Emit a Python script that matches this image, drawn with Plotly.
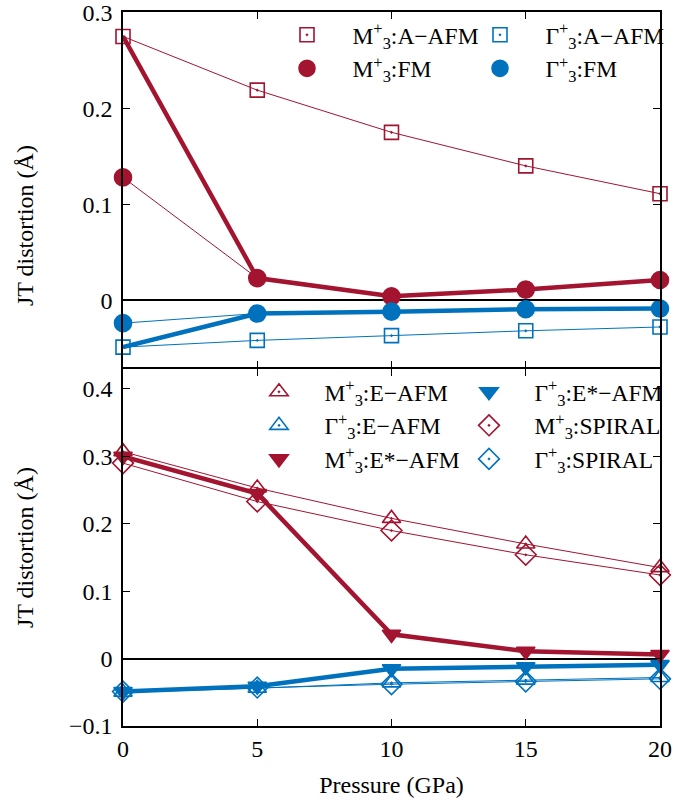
import plotly.graph_objects as go
from plotly.subplots import make_subplots

pressure = [0, 5, 10, 15, 20]

# top panel
m_aafm = [0.275, 0.219, 0.175, 0.140, 0.111]
m_fm = [0.128, 0.023, 0.004, 0.011, 0.021]
g_aafm = [-0.049, -0.042, -0.037, -0.032, -0.028]
g_fm = [-0.024, -0.014, -0.012, -0.0095, -0.0088]

# bottom panel
m_eafm = [0.307, 0.253, 0.208, 0.170, 0.135]
g_eafm = [-0.050, -0.044, -0.036, -0.032, -0.028]
m_estar = [0.300, 0.245, 0.036, 0.011, 0.006]
g_estar = [-0.049, -0.041, -0.015, -0.012, -0.009]
m_spiral = [0.290, 0.233, 0.190, 0.154, 0.124]
g_spiral = [-0.049, -0.043, -0.038, -0.034, -0.030]

# ground-state paths (thick lines)
m_ground_top = [m_aafm[0]] + m_fm[1:]
g_ground_top = [g_aafm[0]] + g_fm[1:]

RED = "#A2142F"
BLUE = "#0072BD"
FONT = "Liberation Serif, Times New Roman, Times, serif"
FS = 24
LFS = 23.5

SP = "\u2002\u2002\u200a"

def lab(base, state):
    return SP + base + "<sup>+</sup><sub>3</sub>:" + state

L, R, T, B = 123, 18, 12, 76
W, H = 678, 802
pw, ph = W - L - R, H - T - B
split = 1 - (368 - T) / ph
half = 0.75 / ph

fig = make_subplots(rows=2, cols=1, shared_xaxes=False, vertical_spacing=0)

def line(x, y, color, width, row):
    fig.add_trace(go.Scatter(x=x, y=y, mode="lines", line=dict(color=color, width=width),
                             showlegend=False, hoverinfo="skip", cliponaxis=False), row=row, col=1)

def mark(x, y, color, symbol, size, name, legend, row, lw=1.6):
    fig.add_trace(go.Scatter(x=x, y=y, mode="markers", name=name, legend=legend,
                             marker=dict(color=color, symbol=symbol, size=size,
                                         line=dict(color=color, width=lw)),
                             cliponaxis=False), row=row, col=1)

# top lines
line(pressure, m_aafm, RED, 1, 1)
line(pressure, m_fm, RED, 1, 1)
line(pressure, g_aafm, BLUE, 1, 1)
line(pressure, g_fm, BLUE, 1, 1)
line(pressure, m_ground_top, RED, 4.5, 1)
line(pressure, g_ground_top, BLUE, 4.5, 1)

# top markers (legend order: row-major, 2 columns)
mark(pressure, m_aafm, RED, "square-open-dot", 14, lab("M", "A\u2212AFM"), "legend", 1)
mark(pressure, g_aafm, BLUE, "square-open-dot", 14, lab("\u0393", "A\u2212AFM"), "legend", 1)
mark(pressure, m_fm, RED, "circle", 17, lab("M", "FM"), "legend", 1)
mark(pressure, g_fm, BLUE, "circle", 17, lab("\u0393", "FM"), "legend", 1)

# bottom lines
line(pressure, m_eafm, RED, 1, 2)
line(pressure, m_spiral, RED, 1, 2)
line(pressure, g_eafm, BLUE, 1, 2)
line(pressure, g_spiral, BLUE, 1, 2)
line(pressure, m_estar, RED, 4.5, 2)
line(pressure, g_estar, BLUE, 4.5, 2)

mark(pressure, m_eafm, RED, "triangle-up-open-dot", 16, lab("M", "E\u2212AFM"), "legend2", 2)
mark(pressure, g_estar, BLUE, "triangle-down", 16, lab("\u0393", "E*\u2212AFM"), "legend2", 2)
mark(pressure, g_eafm, BLUE, "triangle-up-open-dot", 16, lab("\u0393", "E\u2212AFM"), "legend2", 2)
mark(pressure, m_spiral, RED, "diamond-open-dot", 16, lab("M", "SPIRAL"), "legend2", 2)
mark(pressure, m_estar, RED, "triangle-down", 16, lab("M", "E*\u2212AFM"), "legend2", 2)
mark(pressure, g_spiral, BLUE, "diamond-open-dot", 16, lab("\u0393", "SPIRAL"), "legend2", 2)

axis_common = dict(showline=True, linecolor="black", linewidth=1.5, mirror="allticks",
                   ticks="inside", ticklen=7, tickwidth=1, tickcolor="black",
                   showgrid=False, ticklabeloverflow="allow",
                   tickfont=dict(family=FONT, size=FS, color="black"))

fig.update_xaxes(range=[0, 20], tickvals=pressure, **axis_common)
fig.update_xaxes(showticklabels=False, row=1, col=1)
fig.update_xaxes(ticklabelstandoff=0, title=dict(text="Pressure (GPa)",
                 font=dict(family=FONT, size=FS, color="black"), standoff=16), row=2, col=1)
fig.update_yaxes(zeroline=True, zerolinecolor="black", zerolinewidth=1.5,
                 ticklabelstandoff=4, **axis_common)
fig.update_yaxes(range=[-0.07, 0.3005], tickvals=[0, 0.1, 0.2, 0.3],
                 domain=[split + half, 1], row=1, col=1)
fig.update_yaxes(range=[-0.1, 0.43], tickvals=[-0.1, 0, 0.1, 0.2, 0.3, 0.4],
                 domain=[0, split - half], row=2, col=1)

def px(x):
    return (x - L) / pw

def py(y):
    return 1 - (y - T) / ph

leg_font = dict(family=FONT, size=LFS, color="black")
fig.update_layout(
    width=W, height=H,
    margin=dict(l=L, r=R, t=T, b=B, autoexpand=False),
    paper_bgcolor="white", plot_bgcolor="white",
    font=dict(family=FONT, size=FS, color="black"),
    legend=dict(orientation="h", x=px(287), y=py(13), xanchor="left", yanchor="top",
                entrywidth=148, entrywidthmode="pixels", font=leg_font,
                bgcolor="rgba(0,0,0,0)", traceorder="normal"),
    legend2=dict(orientation="h", x=px(259), y=py(370), xanchor="left", yanchor="top",
                 entrywidth=165, entrywidthmode="pixels", font=leg_font,
                 bgcolor="rgba(0,0,0,0)", traceorder="normal"),
    annotations=[
        dict(text="JT distortion (\u00c5)", textangle=-90, x=px(25), xref="paper", y=py(226),
             yref="paper", showarrow=False, font=dict(family=FONT, size=FS, color="black"),
             xanchor="center", yanchor="middle"),
        dict(text="JT distortion (\u00c5)", textangle=-90, x=px(25), xref="paper", y=py(548),
             yref="paper", showarrow=False, font=dict(family=FONT, size=FS, color="black"),
             xanchor="center", yanchor="middle"),
    ],
)

fig.write_html("out.html")
